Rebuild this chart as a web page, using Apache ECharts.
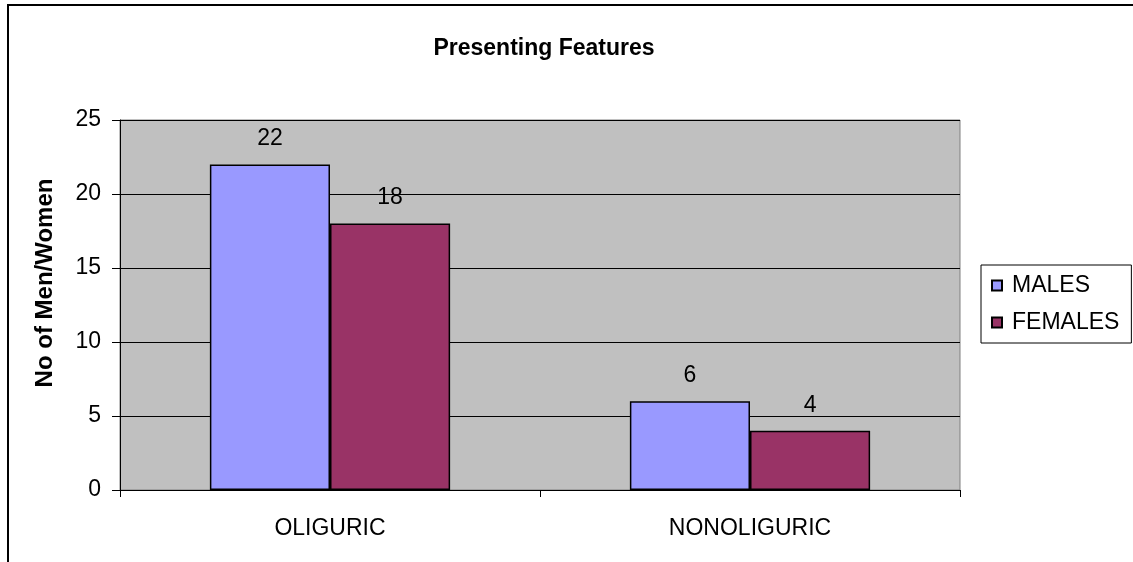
<!DOCTYPE html>
<html>
<head>
<meta charset="utf-8">
<script src="https://cdn.jsdelivr.net/npm/echarts@6/dist/echarts.min.js"></script>
<style>
  html, body { margin: 0; padding: 0; background: #fff; }
  #chart { width: 1133px; height: 562px; }
</style>
</head>
<body>
<div id="chart"></div>
<script>
// Presenting features by sex
const categories = ['OLIGURIC', 'NONOLIGURIC'];
const males = [22, 6];
const females = [18, 4];
const seriesNames = ['MALES', 'FEMALES'];
const yTicks = [0, 5, 10, 15, 20, 25];

const FONT = 'Liberation Sans, Arial, sans-serif';
const chart = echarts.init(document.getElementById('chart'));

const labelStyle = {
  show: true,
  position: 'top',
  distance: 14,
  color: '#000',
  fontSize: 23,
  fontFamily: FONT
};

chart.setOption({
  backgroundColor: '#fff',
  animation: false,
  title: {
    text: 'Presenting Features',
    left: 539,
    textAlign: 'center',
    top: 32,
    textStyle: { fontFamily: FONT, fontWeight: 'bold', fontSize: 23, color: '#000' }
  },
  graphic: [{
    type: 'rect',
    shape: { x: 8, y: 5, width: 1200, height: 600 },
    style: { fill: 'none', stroke: '#000', lineWidth: 2 },
    z: -10
  }],
  legend: {
    data: seriesNames,
    orient: 'vertical',
    left: 981,
    top: 265,
    padding: [9, 12, 9, 10],
    itemGap: 14,
    itemWidth: 10,
    itemHeight: 10,
    icon: 'rect',
    borderColor: '#000',
    borderWidth: 1,
    backgroundColor: '#fff',
    textStyle: { fontFamily: FONT, fontSize: 23, color: '#000', padding: [0, 0, 0, 5] }
  },
  grid: {
    left: 120,
    right: 173,
    top: 120,
    bottom: 72,
    show: true,
    backgroundColor: '#C0C0C0',
    borderColor: '#808080',
    borderWidth: 1
  },
  xAxis: {
    type: 'category',
    data: categories,
    axisLine: { show: true, lineStyle: { color: '#000', width: 1 } },
    axisTick: { show: true, alignWithLabel: false, length: 7, lineStyle: { color: '#000' } },
    axisLabel: { margin: 27, fontFamily: FONT, fontSize: 23, color: '#000' },
    splitLine: { show: false }
  },
  yAxis: {
    type: 'value',
    min: yTicks[0],
    max: yTicks[yTicks.length - 1],
    interval: yTicks[1] - yTicks[0],
    name: 'No of Men/Women',
    nameLocation: 'middle',
    nameGap: 63,
    nameTextStyle: {
      fontFamily: FONT, fontWeight: 'bold', fontSize: 24, color: '#000',
      padding: [0, 0, 0, 44]
    },
    axisLine: { show: true, lineStyle: { color: '#000', width: 1 } },
    axisTick: { show: true, length: 8, lineStyle: { color: '#000' } },
    axisLabel: { margin: 19, fontFamily: FONT, fontSize: 23, color: '#000' },
    splitLine: { show: true, lineStyle: { color: '#000', width: 1 } }
  },
  series: [
    {
      name: seriesNames[0],
      type: 'bar',
      data: males,
      barGap: '0%',
      barCategoryGap: '42.8%',
      itemStyle: { color: '#9999FF', borderColor: '#000', borderWidth: 1.5 },
      label: labelStyle
    },
    {
      name: seriesNames[1],
      type: 'bar',
      data: females,
      itemStyle: { color: '#993366', borderColor: '#000', borderWidth: 1.5 },
      label: labelStyle
    }
  ]
});
</script>
</body>
</html>
